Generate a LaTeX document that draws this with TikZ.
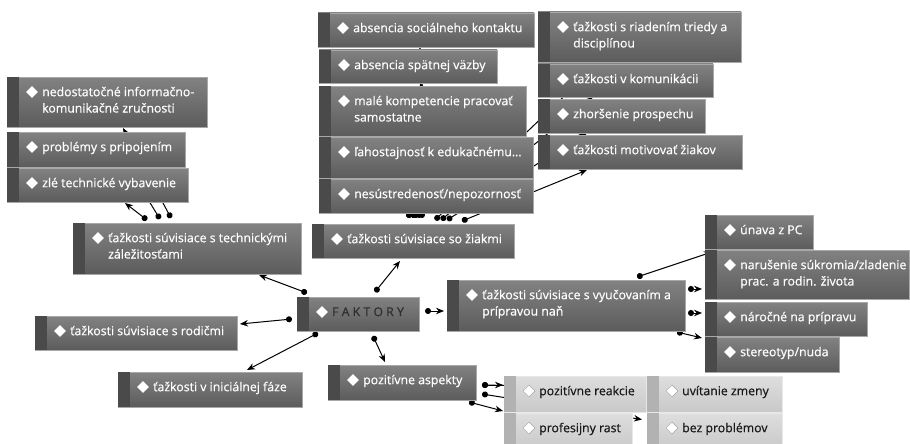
\documentclass[tikz,border=0pt]{standalone}
\usepackage{fontspec}
\setmainfont{Open Sans}
\newfontfamily\boxfont[FakeBold=0.5]{Open Sans}
\usetikzlibrary{arrows.meta,calc,shapes.geometric}
\pgfdeclarelayer{bg}
\pgfsetlayers{bg,main}
\definecolor{dtop}{HTML}{828282}
\definecolor{dbot}{HTML}{5C5C5C}
\definecolor{dedge}{HTML}{A8A8A8}
\definecolor{dstrip}{HTML}{4A4A4A}
\definecolor{ltop}{HTML}{DEDEDE}
\definecolor{lbot}{HTML}{C9C9C9}
\definecolor{ledge}{HTML}{E8E8E8}
\definecolor{lstrip}{HTML}{B2B2B2}
\definecolor{ftxt}{HTML}{2E2E2E}
\tikzset{
  dboxs/.style={draw=dedge, line width=0.8pt, top color=dtop, bottom color=dbot, inner sep=0pt, outer sep=0pt},
  lboxs/.style={draw=ledge, line width=0.8pt, top color=ltop, bottom color=lbot, inner sep=0pt, outer sep=0pt},
  ddia/.style={diamond, fill=white, inner sep=0pt, minimum width=12pt, minimum height=12pt},
  ldia/.style={diamond, fill=white, draw=gray!70, line width=0.5pt, inner sep=0pt, minimum width=12pt, minimum height=12pt},
  txtw/.style={inner sep=0pt, align=left, text=white, font=\boxfont\fontsize{12.3}{16.3}\selectfont},
  txtk/.style={inner sep=0pt, align=left, text=black!90, font=\boxfont\fontsize{12.3}{16.3}\selectfont},
  txtf/.style={inner sep=0pt, align=left, text=ftxt, font=\boxfont\fontsize{12.3}{16.3}\selectfont},
  conn/.style={line width=1pt, {Circle[length=6pt]}-{Stealth[length=8pt,width=6.5pt]}},
}
\newcommand{\DBox}[7][txtw]{%
  \node[dboxs, minimum width=#5pt, minimum height=#6pt, anchor=north west] (#2) at (#3,#4) {};
  \fill[dstrip] ($(#2.north west)+(0.4,0.4)$) rectangle ($(#2.south west)+(12,-0.4)$);
  \node[ddia] (#2d) at ($(#2.north west)+(25,15)$) {};
  \node[#1, anchor=north west] (#2t) at ($(#2.north west)+(35,9)$) {\rule{0pt}{10pt}#7};
}
\newcommand{\LBox}[6]{%
  \node[lboxs, minimum width=#4pt, minimum height=#5pt, anchor=north west] (#1) at (#2,#3) {};
  \fill[lstrip] ($(#1.north west)+(0.4,0.4)$) rectangle ($(#1.south west)+(12,-0.4)$);
  \node[ldia] (#1d) at ($(#1.north west)+(25,15)$) {};
  \node[txtk, anchor=north west] (#1t) at ($(#1.north west)+(35,9)$) {\rule{0pt}{10pt}#6};
}
\begin{document}
\begin{tikzpicture}[x=1pt,y=-1pt]
\useasboundingbox (0,0) rectangle (910,444);
\begin{pgfonlayer}{bg}
\fill[white] (0,0) rectangle (910,444);
\end{pgfonlayer}
% technical group
\DBox{b1}{7}{77}{200}{50}{nedostatočné informačno-\\komunikačné zručnosti}
\DBox{b2}{7}{132}{178}{35}{problémy s pripojením}
\DBox{b3}{7}{168}{181}{34}{zlé technické vybavenie}
\DBox{b4}{73}{223}{228}{51}{ťažkosti súvisiace s technickými\\záležitosťami}
\DBox{b5}{35}{316}{202}{34}{ťažkosti súvisiace s rodičmi}
\DBox{b6}{118}{372}{184}{35}{ťažkosti v iniciálnej fáze}
\DBox[txtf]{fak}{297}{297}{122}{34}{F A K T O R Y}
% pupils group
\DBox{ziak}{312}{224}{202}{34}{ťažkosti súvisiace so žiakmi}
\DBox{v1}{318}{13}{216}{34}{absencia sociálneho kontaktu}
\DBox{v2}{319}{50}{178}{33}{absencia spätnej väzby}
\DBox{v3}{319}{86}{207}{50}{malé kompetencie pracovať\\samostatne}
\DBox{v4}{319}{137}{214}{41}{ľahostajnosť k edukačnému…}
\DBox{v5}{319}{179}{214}{34}{nesústredenosť/nepozornosť}
\DBox{r1}{538}{12}{203}{50}{ťažkosti s riadením triedy a\\disciplínou}
\DBox{r2}{538}{64}{175}{33}{ťažkosti v komunikácii}
\DBox{r3}{538}{99}{167}{34}{zhoršenie prospechu}
\DBox{r4}{538}{135}{204}{34}{ťažkosti motivovať žiakov}
% teaching group
\DBox{vyuc}{447}{280}{238}{51}{ťažkosti súvisiace s vyučovaním a\\prípravou naň}
\DBox{u1}{705}{215}{108}{34}{únava z PC}
\DBox{u2}{705}{250}{204}{49}{narušenie súkromia/zladenie\\prac. a rodin. života}
\DBox{u3}{705}{302}{162}{34}{náročné na prípravu}
\DBox{u4}{705}{337}{134}{35}{stereotyp/nuda}
% positive group
\DBox{poz}{328}{365}{148}{35}{pozitívne aspekty}
\LBox{p1}{504}{376}{142}{36}{pozitívne reakcie}
\LBox{p2}{647}{376}{135}{36}{uvítanie zmeny}
\LBox{p3}{504}{413}{128}{36}{profesijny rast}
\LBox{p4}{647}{413}{135}{36}{bez problémov}
% connectors (behind boxes)
\begin{pgfonlayer}{bg}
\draw[conn] ($(fak.north west)+(10,-4)$) -- ($(b4.south west)+(186,1)$);
\draw[conn] ($(fak.west)+(-5,5)$) -- ($(b5.east)+(3,-9)$);
\draw[conn] ($(fak.south west)+(21,2)$) -- ($(b6.north west)+(129,-2)$);
\draw[conn] ($(fak.north west)+(78,-5)$) -- ($(ziak.south west)+(88,3)$);
\draw[conn] ($(fak.east)+(6,-3)$) -- ($(vyuc.west)+(-3,5.5)$);
\draw[conn] ($(fak.south west)+(76,5)$) -- ($(poz.north west)+(57,-3)$);
% technical children
\draw[conn] ($(b4.north west)+(74,-3)$) -- ($(b3.south west)+(118,1)$);
\draw[conn] ($(b4.north west)+(87,-4)$) -- ($(b2.south west)+(121,0)$);
\draw[conn] ($(b4.north west)+(98,-5)$) -- ($(b1.south west)+(116,1)$);
% pupils children
\draw[conn] ($(ziak.north west)+(98,-6)$) -- ($(v5.south west)+(85,-12)$);
\draw[conn] ($(ziak.north west)+(101,-6)$) -- ($(v4.south west)+(99,0)$);
\draw[conn] ($(ziak.north west)+(104,-6)$) -- ($(v3.south west)+(91,0)$);
\draw[conn] ($(ziak.north west)+(107,-6)$) -- ($(v2.south west)+(103,0)$);
\draw[conn] ($(ziak.north west)+(110,-6)$) -- ($(v1.south west)+(102,0)$);
\draw[conn] ($(ziak.north west)+(123,-4)$) -- ($(r1.south west)+(62,0)$);
\draw[conn] ($(ziak.north west)+(129,-4)$) -- ($(r2.south west)+(55,0)$);
\draw[conn] ($(ziak.north west)+(135,-4)$) -- ($(r3.south west)+(49,0)$);
\draw[conn] ($(ziak.north west)+(150,-3)$) -- ($(r4.south west)+(49,1)$);
% teaching children
\draw[conn] ($(vyuc.north west)+(190,-3)$) -- ($(u1.south west)+(7,3)$);
\draw[conn] ($(vyuc.east)+(3,-16.5)$) -- ($(u2.west)+(-3,14.5)$);
\draw[conn] ($(vyuc.east)+(3,7.5)$) -- ($(u3.west)+(-3,-6)$);
\draw[conn] ($(vyuc.south east)+(-8,1)$) -- ($(u4.west)+(-3,-16.5)$);
% positive children
\draw[conn] ($(poz.east)+(6,2.5)$) -- ($(p1.west)+(-1,-9)$);
\draw[conn] ($(poz.east)+(6,2.5)$) -- ($(p2.west)+(-3,-6)$);
\draw[conn] ($(poz.east)+(6,11.5)$) -- ($(p4.west)+(-5,-11.5)$);
\draw[conn] ($(poz.south east)+(-7,2)$) -- ($(p3.north west)+(-1,-2)$);
\end{pgfonlayer}
\end{tikzpicture}
\end{document}
